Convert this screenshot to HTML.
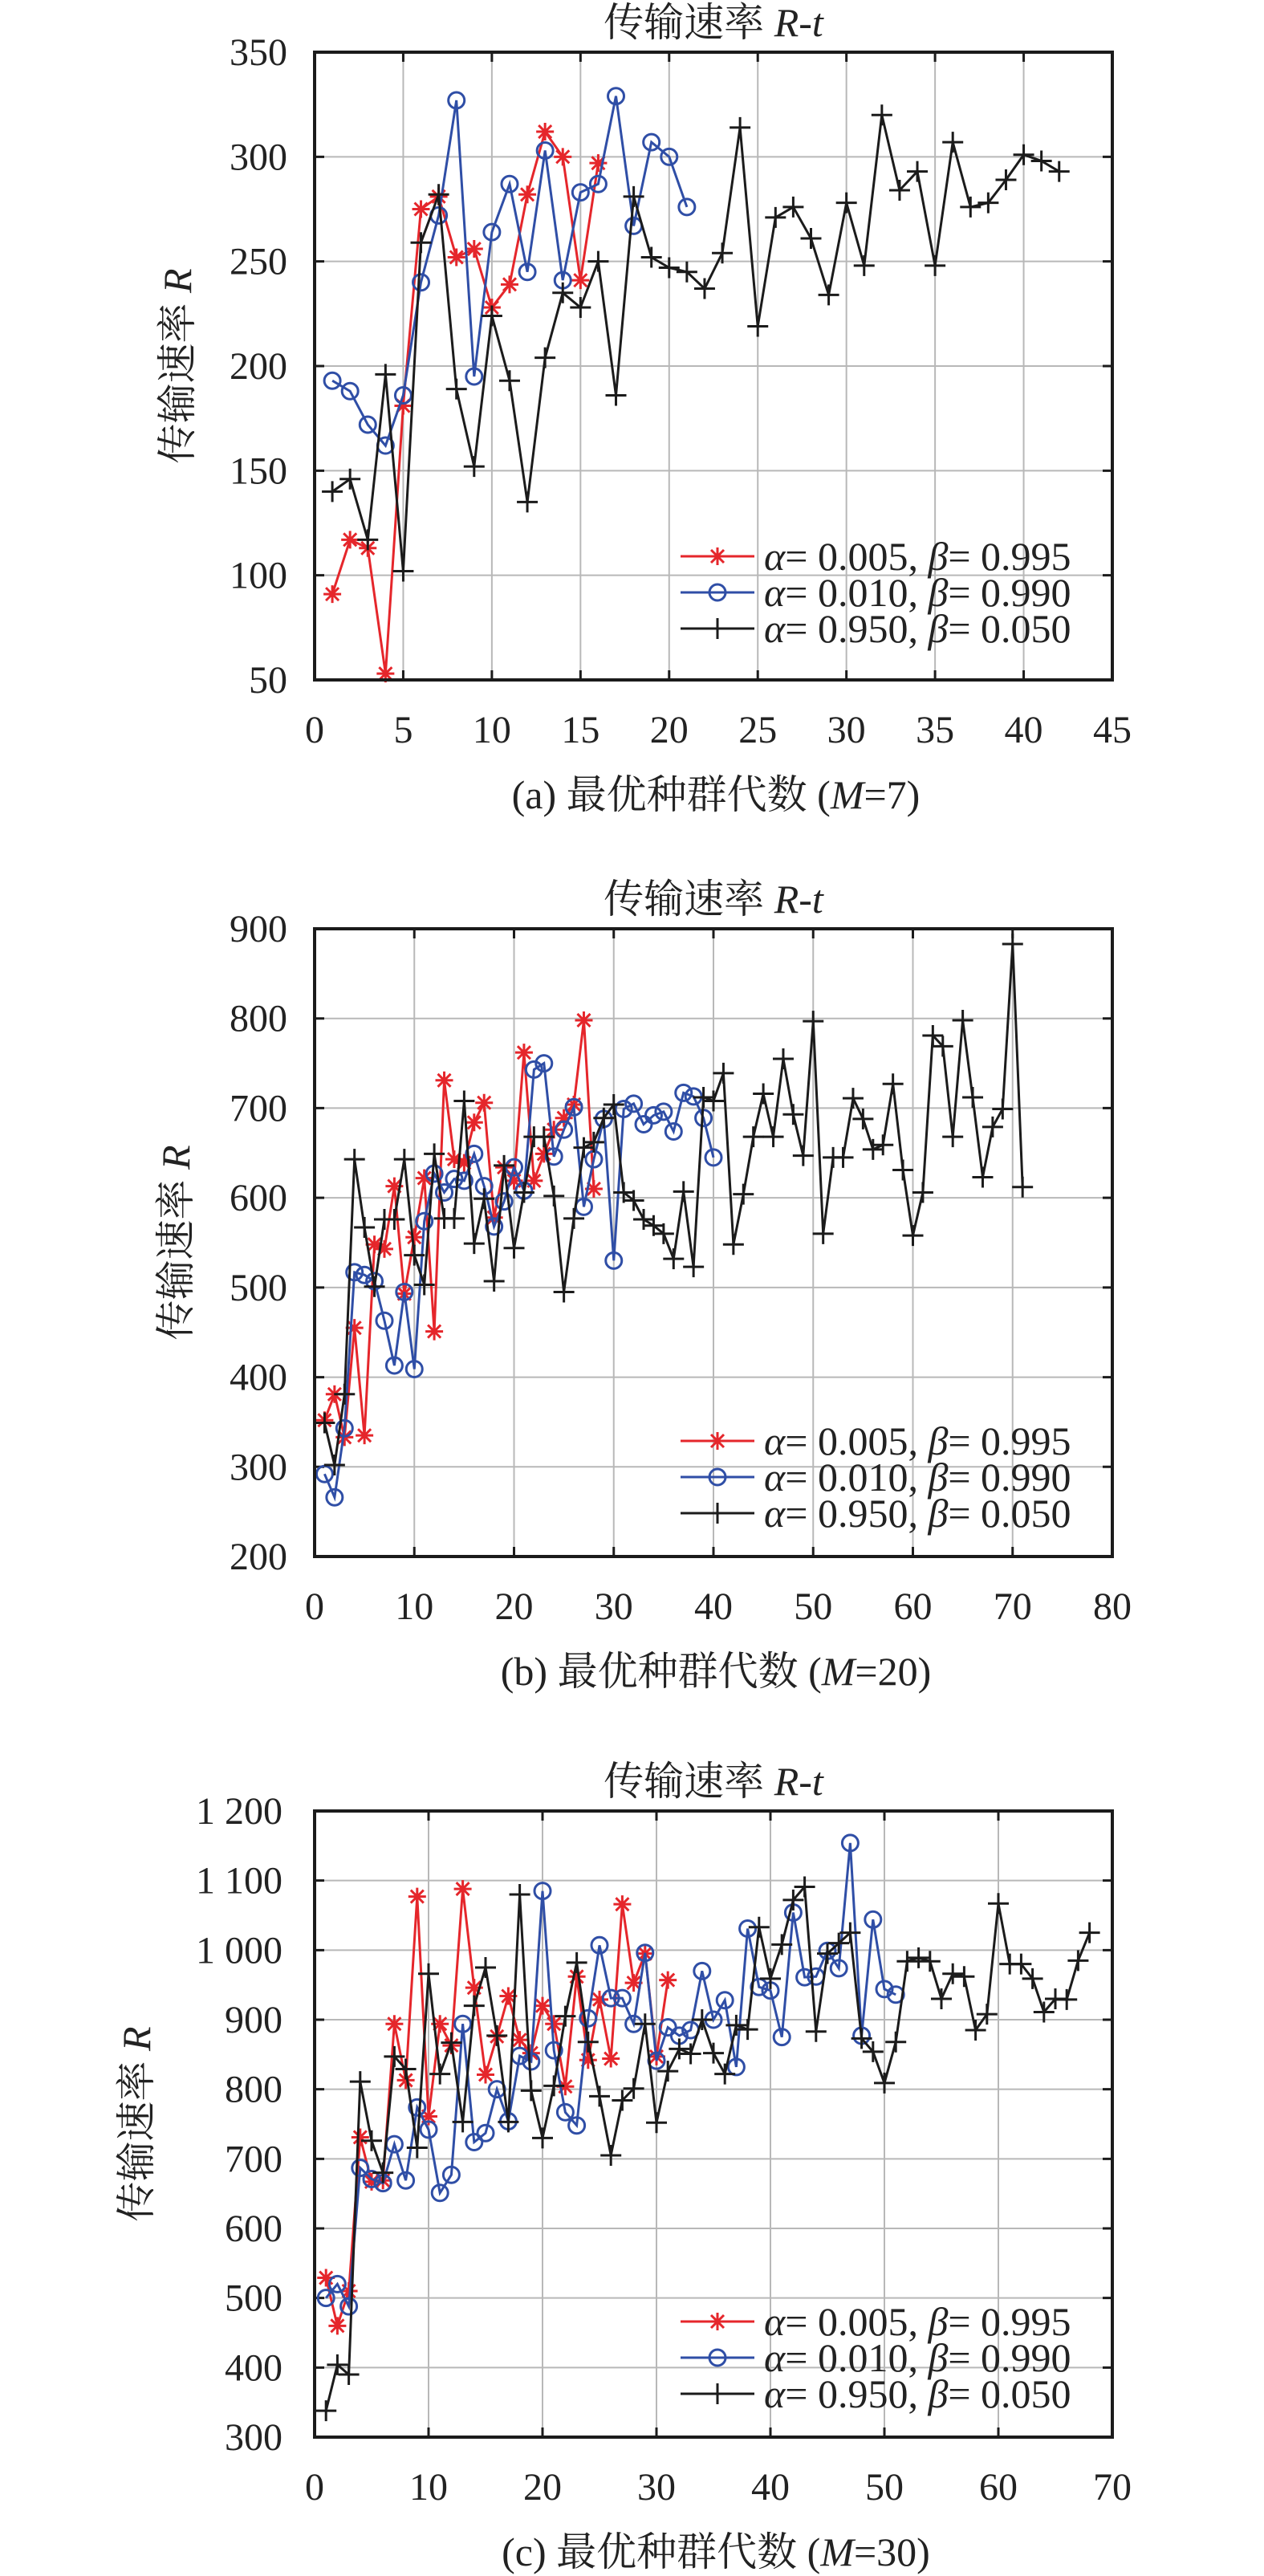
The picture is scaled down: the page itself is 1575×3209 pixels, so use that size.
<!DOCTYPE html>
<html><head><meta charset="utf-8">
<style>
html,body{margin:0;padding:0;background:#fff;}
svg{display:block;}
</style></head>
<body>
<svg id="fig" width="1575" height="3209" viewBox="0 0 1575 3209" xmlns="http://www.w3.org/2000/svg" font-family="'Liberation Serif','Noto Serif CJK SC',serif"></svg>
<script>
// ---- data ----
const aRed=[91,117,113,53,181,275,281,252,256,228,239,282,312,300,241,297];
const aBlue=[193,188,172,162,186,240,272,327,195,264,287,245,303,241,283,287,329,267,307,300,276];
const aBlack=[140,146,117,196,102,259,282,189,152,224,193,135,204,235,228,250,186,281,252,247,245,237,254,314,219,271,276,261,234,278,248,320,284,293,248,307,276,278,289,301,298,293];
const aYTicks=[50,100,150,200,250,300,350];
const aXTicks=[0,5,10,15,20,25,30,35,40,45];

const bRed=[352,381,333,455,335,548,543,613,493,556,622,451,731,643,639,684,706,578,634,619,762,619,649,676,689,704,798,610];
const bBlue=[292,266,343,517,514,507,463,413,495,409,574,627,606,621,619,649,613,568,596,634,608,743,750,646,676,701,590,643,688,530,699,705,682,692,696,674,717,713,689,645];
const bBlack=[349,302,381,643,567,501,576,576,643,536,503,649,577,577,708,549,599,507,636,544,606,668,668,602,495,577,656,662,689,704,606,597,576,569,560,532,607,523,712,708,739,548,604,668,716,668,755,693,647,797,560,645,645,711,688,654,659,727,631,558,606,781,769,668,798,712,623,679,699,883,612];
const bYTicks=[200,300,400,500,600,700,800,900];
const bXTicks=[0,10,20,30,40,50,60,70,80];

const cRed=[529,460,510,731,667,669,894,813,1077,761,894,863,1088,946,821,876,934,871,852,920,894,804,962,842,929,844,1066,953,995,847,957];
const cBlue=[500,520,488,687,671,665,721,669,774,742,651,677,894,724,737,800,754,848,840,1085,856,767,748,902,1007,931,931,894,996,841,889,877,885,970,900,928,832,1031,947,942,875,1054,961,962,999,974,1154,877,1044,944,936];
const cBlack=[338,404,390,811,726,680,847,829,716,966,822,867,753,920,975,877,753,1080,798,730,805,905,982,868,790,705,784,801,894,752,826,858,851,900,852,822,892,886,1033,959,1008,1072,1091,883,995,1010,1025,873,854,809,868,984,989,984,930,966,962,885,908,1067,980,980,959,911,930,929,985,1025];
const cYTicks=[300,400,500,600,700,800,900,1000,1100,1200];
const cYLabels=["300","400","500","600","700","800","900","1 000","1 100","1 200"];
const cXTicks=[0,10,20,30,40,50,60,70];

const legendA=["0.005","0.010","0.950"];
const legendB=["0.995","0.990","0.050"];

// ---- drawing ----
const NS="http://www.w3.org/2000/svg";
const svg=document.getElementById('fig');
const RED="#e5262b",BLUE="#2f4ea6",BLACK="#1b1b1b";
function mk(tag,attrs,parent){const e=document.createElementNS(NS,tag);for(const k in attrs)e.setAttribute(k,attrs[k]);(parent||svg).appendChild(e);return e;}

function marker(g,type,x,y,color){
  if(type==='star'){
    const s=11,d=8;
    const m=mk('path',{d:`M${x-s},${y}H${x+s}M${x},${y-s}V${y+s}M${x-d},${y-d}L${x+d},${y+d}M${x-d},${y+d}L${x+d},${y-d}`,stroke:color,'stroke-width':3,fill:'none'},g);
    
    
  }else if(type==='circle'){
    const m=mk('circle',{cx:x,cy:y,r:10,stroke:color,'stroke-width':3,fill:'none'},g);
    
    
  }else{
    const s=13;
    const m=mk('path',{d:`M${x-s},${y}H${x+s}M${x},${y-s}V${y+s}`,stroke:color,'stroke-width':3,fill:'none'},g);
    
    
  }
}

function chart(o){
  const g=mk('g',{});
  
  
  const L=392,R=1386,T=o.top,B=o.bottom;
  const xs=v=>L+(v-o.xmin)/(o.xmax-o.xmin)*(R-L);
  const ys=v=>B-(v-o.ymin)/(o.ymax-o.ymin)*(B-T);
  // grid
  o.xticks.forEach(v=>{ if(v>o.xmin&&v<o.xmax){const l=mk('line',{x1:xs(v),x2:xs(v),y1:T,y2:B,stroke:'#b8b8b8','stroke-width':2},g);}});
  o.yticks.forEach(v=>{ if(v>o.ymin&&v<o.ymax){const l=mk('line',{x1:L,x2:R,y1:ys(v),y2:ys(v),stroke:'#b8b8b8','stroke-width':2},g);}});
  // ticks
  o.yticks.forEach((v,i)=>{
    const y=ys(v);
    const t=mk('path',{d:`M${L},${y}H${L+12}M${R},${y}H${R-12}`,stroke:'#1b1b1b','stroke-width':3},g);
    
    
    const tx=mk('text',{x:o.ylabRight,y:y+16,'text-anchor':'end','font-size':48,fill:'#222'},g);
    tx.textContent=o.ylabels?o.ylabels[i]:String(v);
    
    
  });
  o.xticks.forEach(v=>{
    const x=xs(v);
    const t=mk('path',{d:`M${x},${B}V${B-12}M${x},${T}V${T+12}`,stroke:'#1b1b1b','stroke-width':3},g);
    
    
    const tx=mk('text',{x:x,y:B+78,'text-anchor':'middle','font-size':48,fill:'#222'},g);
    tx.textContent=String(v);
    
    
  });
  // series
  const series=[[o.red,RED,'star','series-red'],[o.blue,BLUE,'circle','series-blue'],[o.black,BLACK,'plus','series-black']];
  series.forEach(([data,col,mt,nm])=>{
    const sg=mk('g',{},g);
    
    
    const pts=data.map((v,i)=>xs(i+1).toFixed(1)+','+ys(v).toFixed(1)).join(' ');
    const pl=mk('polyline',{points:pts,fill:'none',stroke:col,'stroke-width':3,'stroke-linejoin':'miter'},sg);
    
    
    data.forEach((v,i)=>marker(sg,mt,xs(i+1),ys(v),col));
  });
  // frame
  const fr=mk('rect',{x:L,y:T,width:R-L,height:B-T,fill:'none',stroke:'#1b1b1b','stroke-width':4},g);
  
  
  // title
  const tt=mk('text',{x:889,y:T-20,'text-anchor':'middle','font-size':50,fill:'#222'},g);
  
  
  tt.innerHTML='传输速率 <tspan font-style="italic">R</tspan>-<tspan font-style="italic">t</tspan>';
  // y label
  const yl=mk('text',{x:0,y:0,'text-anchor':'middle','font-size':50,fill:'#222',transform:`translate(${o.ylabX},${(T+B)/2}) rotate(-90)`},g);
  
  
  yl.innerHTML='传输速率 <tspan font-style="italic">R</tspan>';
  // caption
  const cp=mk('text',{x:892,y:B+160,'text-anchor':'middle','font-size':50,fill:'#222'},g);
  
  
  cp.innerHTML=`(${o.letter}) 最优种群代数 (<tspan font-style="italic">M</tspan>=${o.M})`;
  // legend
  const lg=mk('g',{},g);
  
  
  [[RED,'star'],[BLUE,'circle'],[BLACK,'plus']].forEach(([col,mt],i)=>{
    const y=o.legY+i*45;
    const le=mk('g',{},lg);
    
    
    mk('line',{x1:848,x2:940,y1:y,y2:y,stroke:col,'stroke-width':3},le);
    marker(le,mt,894,y,col);
    const t=mk('text',{x:952,y:y+17,'font-size':50,fill:'#222'},le);
    t.innerHTML=`<tspan font-style="italic">α</tspan>= ${legendA[i]}, <tspan font-style="italic">β</tspan>= ${legendB[i]}`;
  });
}

chart({name:'chart-a',top:65,bottom:847,xmin:0,xmax:45,ymin:50,ymax:350,xticks:aXTicks,yticks:aYTicks,red:aRed,blue:aBlue,black:aBlack,ylabRight:358,ylabX:238,letter:'a',M:7,legY:693});
chart({name:'chart-b',top:1157,bottom:1939,xmin:0,xmax:80,ymin:200,ymax:900,xticks:bXTicks,yticks:bYTicks,red:bRed,blue:bBlue,black:bBlack,ylabRight:358,ylabX:236,letter:'b',M:20,legY:1795});
chart({name:'chart-c',top:2256,bottom:3036,xmin:0,xmax:70,ymin:300,ymax:1200,xticks:cXTicks,yticks:cYTicks,ylabels:cYLabels,red:cRed,blue:cBlue,black:cBlack,ylabRight:352,ylabX:187,letter:'c',M:30,legY:2892});
</script>
</body></html>
